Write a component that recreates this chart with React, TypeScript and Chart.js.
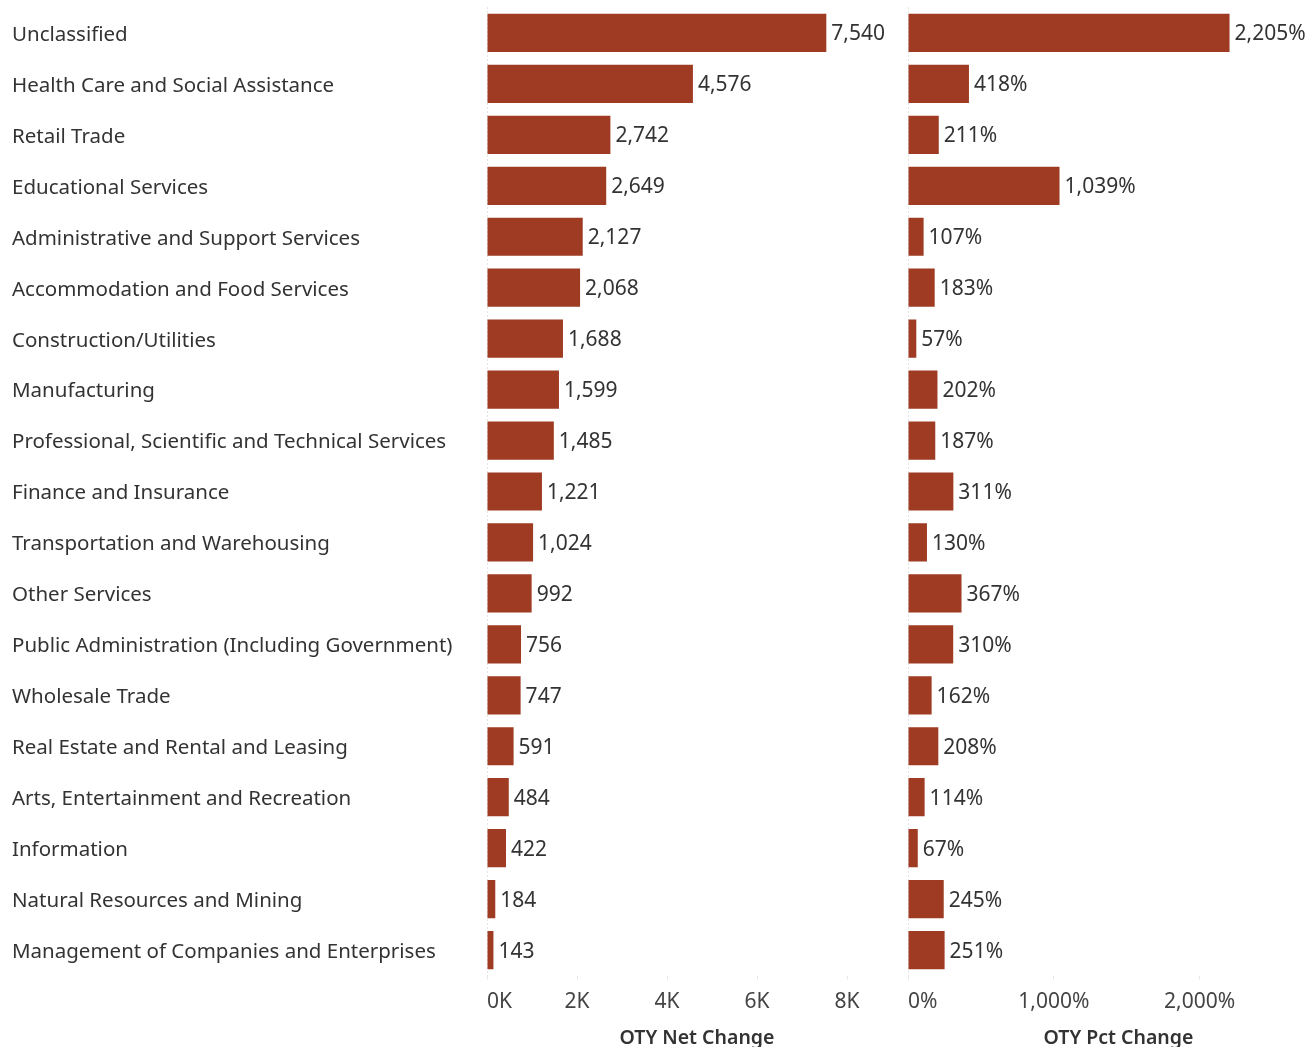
import React, { useEffect, useRef } from "react";
import { Chart, registerables } from "chart.js";

Chart.register(...registerables);

const categories = [
  "Unclassified",
  "Health Care and Social Assistance",
  "Retail Trade",
  "Educational Services",
  "Administrative and Support Services",
  "Accommodation and Food Services",
  "Construction/Utilities",
  "Manufacturing",
  "Professional, Scientific and Technical Services",
  "Finance and Insurance",
  "Transportation and Warehousing",
  "Other Services",
  "Public Administration (Including Government)",
  "Wholesale Trade",
  "Real Estate and Rental and Leasing",
  "Arts, Entertainment and Recreation",
  "Information",
  "Natural Resources and Mining",
  "Management of Companies and Enterprises",
];

const netChange = [7540, 4576, 2742, 2649, 2127, 2068, 1688, 1599, 1485, 1221, 1024, 992, 756, 747, 591, 484, 422, 184, 143];
const pctChange = [2205, 418, 211, 1039, 107, 183, 57, 202, 187, 311, 130, 367, 310, 162, 208, 114, 67, 245, 251];

const netTicks = [0, 2000, 4000, 6000, 8000];
const pctTicks = [0, 1000, 2000];
const netMax = 9333;
const pctMax = 2887;

const BAR_COLOR = "#9e3b22";
const FONT = "'Noto Sans', sans-serif";
const TEXT = "#333333";

const fmtNum = (v: number) => v.toLocaleString("en-US");

function valueLabelPlugin(fmt: (v: number) => string) {
  return {
    id: "valueLabels",
    afterDatasetsDraw(chart: any) {
      const ctx = chart.ctx;
      const meta = chart.getDatasetMeta(0);
      const data = chart.data.datasets[0].data as number[];
      ctx.save();
      ctx.font = `21px ${FONT}`;
      ctx.fillStyle = TEXT;
      ctx.textAlign = "left";
      ctx.textBaseline = "middle";
      meta.data.forEach((el: any, i: number) => {
        ctx.fillText(fmt(data[i]), el.x + 5, el.y + 1.5);
      });
      ctx.restore();
    },
  };
}

function makeConfig(
  values: number[],
  ticks: number[],
  max: number,
  tickFmt: (v: number) => string,
  valFmt: (v: number) => string,
  title: string,
  showCategories: boolean
): any {
  return {
    type: "bar",
    data: {
      labels: categories,
      datasets: [
        {
          data: values,
          backgroundColor: BAR_COLOR,
          borderWidth: 0,
          categoryPercentage: 1,
          barPercentage: 0.75,
        },
      ],
    },
    options: {
      indexAxis: "y",
      responsive: false,
      animation: false,
      layout: { padding: { left: showCategories ? 12 : 1, top: 7.5, right: 0, bottom: 0 } },
      plugins: { legend: { display: false }, tooltip: { enabled: false } },
      scales: {
        x: {
          type: "linear",
          min: 0,
          max,
          afterBuildTicks: (scale: any) => {
            scale.ticks = [...ticks, max].map((v) => ({ value: v }));
          },
          afterFit: (scale: any) => {
            scale.height = 74.5;
            scale.paddingLeft = 0;
            scale.paddingRight = 0;
          },
          grid: {
            display: true,
            drawOnChartArea: true,
            drawTicks: true,
            tickLength: 4,
            color: (ctx: any) => (ctx.tick && ctx.tick.value === 0 ? "#c8c8c8" : "rgba(0,0,0,0)"),
            tickColor: (ctx: any) => (ctx.tick && ctx.tick.value !== max ? "#e6e6e6" : "rgba(0,0,0,0)"),
          },
          border: { display: false, dash: [1, 3] },
          ticks: {
            autoSkip: false,
            maxRotation: 0,
            align: "inner",
            padding: 10,
            color: "#444444",
            font: { family: FONT, size: 21 },
            callback: (v: any) => (v === max ? "" : tickFmt(Number(v))),
          },
          title: {
            display: true,
            text: title,
            color: TEXT,
            font: { family: FONT, size: 19.5, weight: "600" },
            padding: { top: 0, bottom: 0 },
          },
        },
        y: {
          type: "category",
          display: showCategories,
          afterFit: (scale: any) => {
            if (showCategories) scale.width = 475;
            scale.paddingTop = 0;
            scale.paddingBottom = 0;
          },
          grid: { display: false },
          border: { display: false },
          ticks: {
            crossAlign: "far",
            padding: 0,
            labelOffset: 2,
            color: TEXT,
            font: { family: FONT, size: 20.5 },
            autoSkip: false,
          },
        },
      },
    },
    plugins: [valueLabelPlugin(valFmt)],
  };
}

function BarPanel(props: { left: number; width: number; config: any }) {
  const ref = useRef<HTMLCanvasElement | null>(null);
  useEffect(() => {
    if (!ref.current) return;
    const chart = new Chart(ref.current, props.config);
    return () => chart.destroy();
  }, []);
  return (
    <canvas
      ref={ref}
      width={props.width}
      height={1050}
      style={{ position: "absolute", left: props.left, top: 0, width: props.width, height: 1050 }}
    />
  );
}

export default function App() {
  const leftCfg = makeConfig(
    netChange,
    netTicks,
    netMax,
    (v) => `${v / 1000}K`,
    fmtNum,
    "OTY Net Change",
    true
  );
  const rightCfg = makeConfig(
    pctChange,
    pctTicks,
    pctMax,
    (v) => `${fmtNum(v)}%`,
    (v) => `${fmtNum(v)}%`,
    "OTY Pct Change",
    false
  );
  return (
    <div
      style={{
        position: "absolute",
        left: 0,
        top: 0,
        width: 1309,
        height: 1047,
        overflow: "hidden",
        background: "#ffffff",
      }}
    >
      <BarPanel left={0} width={907} config={leftCfg} />
      <BarPanel left={907} width={422} config={rightCfg} />
    </div>
  );
}
